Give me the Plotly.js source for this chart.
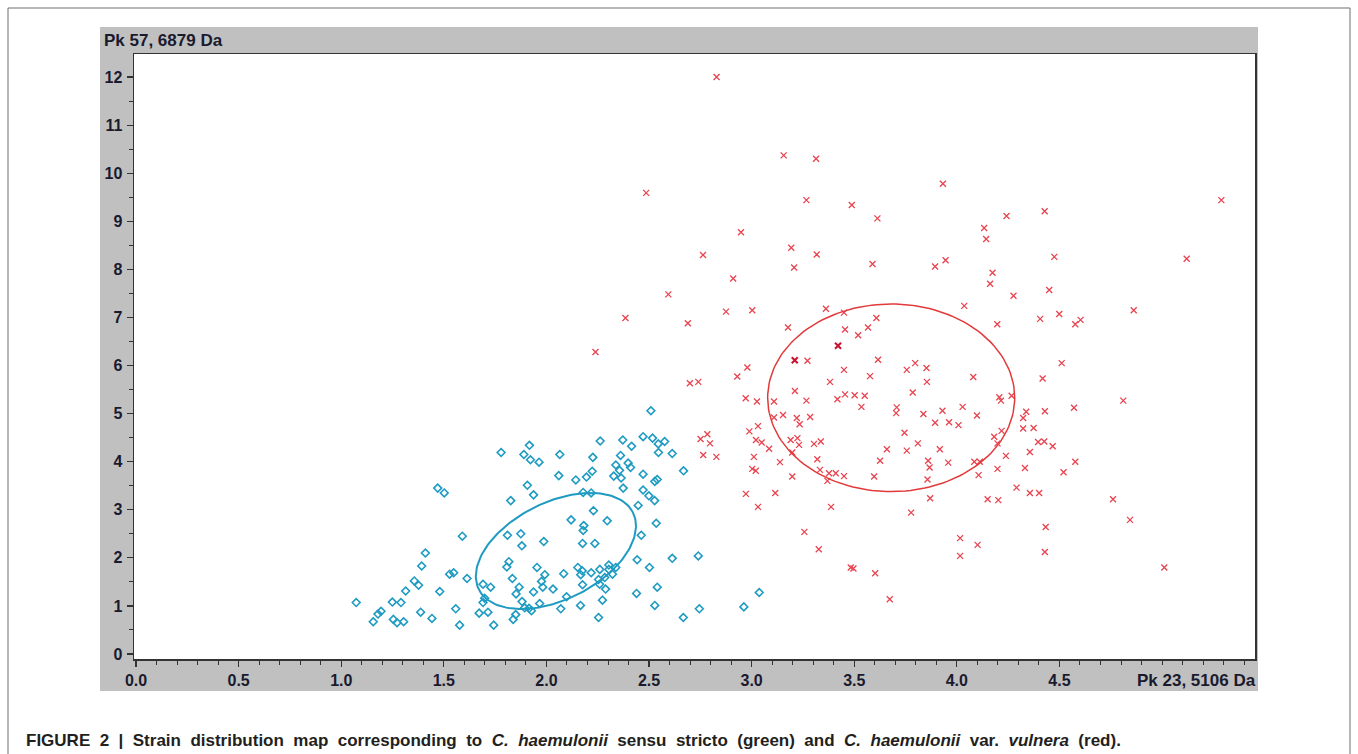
<!DOCTYPE html>
<html>
<head>
<meta charset="utf-8">
<script src="https://cdn.plot.ly/plotly-3.0.1.min.js"></script>
<style>
html,body{margin:0;padding:0;background:#fff;}
#chart{width:1358px;height:754px;}
</style>
</head>
<body>
<div id="chart"></div>
<script>
// ---- data ----
const greenX = [1.073,1.156,1.179,1.194,1.249,1.254,1.272,1.304,1.291,1.314,1.356,1.377,1.392,1.41,1.387,1.442,1.47,1.502,1.48,1.528,1.548,1.558,1.577,1.59,1.613,1.672,1.715,1.691,1.728,1.691,1.699,1.743,1.779,1.89,1.917,1.922,1.907,1.826,1.81,1.875,1.88,1.817,1.807,1.834,1.867,1.852,1.881,1.894,1.915,1.85,1.838,2.509,1.964,2.065,2.262,2.372,2.415,2.471,2.517,2.545,2.576,2.546,2.613,2.226,2.361,2.338,2.356,2.398,2.41,2.223,2.195,2.143,2.06,2.328,2.364,2.471,2.668,2.528,2.54,1.937,2.179,2.218,2.374,2.471,2.499,2.527,2.447,2.229,2.12,2.182,2.179,2.296,2.535,1.987,2.176,2.236,2.462,2.442,2.613,2.502,1.954,1.992,1.976,1.982,2.084,2.153,2.174,2.167,2.218,2.26,2.304,2.304,2.338,2.322,2.284,2.254,2.259,2.288,2.032,1.937,2.176,1.927,1.967,2.098,2.07,2.166,2.273,2.254,2.439,2.54,2.528,2.667,2.74,2.745,2.962,3.037];
const greenY = [1.07,0.67,0.83,0.89,1.08,0.72,0.65,0.67,1.07,1.31,1.52,1.43,1.83,2.10,0.87,0.74,3.45,3.35,1.30,1.66,1.69,0.94,0.60,2.45,1.57,0.85,0.87,1.45,1.39,1.07,1.16,0.60,4.19,4.15,4.34,4.04,3.51,3.19,2.47,2.50,2.25,1.92,1.81,1.57,1.39,1.25,1.09,0.96,0.95,0.82,0.72,5.06,3.99,4.15,4.43,4.45,4.32,4.52,4.49,4.37,4.42,4.19,4.17,4.09,4.13,3.93,3.82,3.97,3.88,3.80,3.68,3.62,3.71,3.70,3.66,3.74,3.81,3.59,3.63,3.31,3.36,3.35,3.45,3.41,3.29,3.19,3.09,2.98,2.79,2.67,2.57,2.77,2.72,2.34,2.30,2.30,2.47,1.96,1.99,1.80,1.80,1.65,1.51,1.39,1.67,1.80,1.73,1.65,1.69,1.76,1.85,1.76,1.80,1.66,1.59,1.55,1.45,1.35,1.35,1.29,1.44,0.90,1.05,1.19,0.94,1.01,1.12,0.76,1.26,1.39,1.01,0.76,2.04,0.94,0.98,1.28];

const redX = [2.829,3.156,3.314,2.486,3.267,2.948,3.193,3.317,2.763,3.207,2.91,2.594,2.875,3.003,3.362,2.689,3.177,3.272,2.979,2.93,2.239,2.385,3.932,3.488,3.613,4.242,4.428,4.133,4.143,3.589,3.894,3.945,4.174,4.162,4.45,4.276,4.036,4.406,4.197,3.45,3.455,3.519,3.567,3.608,3.616,3.45,3.577,3.756,3.797,3.852,4.08,4.418,5.289,4.475,5.12,4.499,4.577,4.603,4.862,4.511,2.699,2.74,2.971,3.026,3.109,3.211,3.267,3.382,3.418,3.455,3.109,3.153,3.22,3.285,3.234,3.031,2.989,2.784,2.751,2.797,3.021,3.049,3.085,3.19,3.223,3.231,3.198,3.304,3.337,2.764,2.828,3.011,3.138,3.32,3.003,3.02,3.333,3.377,3.41,3.45,3.369,3.198,2.972,3.115,3.031,3.387,3.257,3.327,3.483,3.854,3.785,3.502,3.551,3.535,3.707,3.704,3.837,3.93,4.028,4.098,3.894,3.962,4.008,4.207,4.215,4.267,3.745,3.81,3.756,3.659,3.917,3.626,3.86,3.867,3.958,3.597,3.857,4.085,4.112,4.106,4.182,4.218,4.198,4.239,4.198,4.291,4.15,4.202,3.87,3.777,4.016,4.101,4.016,3.496,3.602,3.673,4.811,4.338,4.429,4.571,4.323,4.323,4.374,4.396,4.426,4.467,4.356,4.577,4.332,4.52,4.356,4.401,4.761,4.844,4.433,4.429,5.011];
const redY = [12.0,10.37,10.30,9.59,9.44,8.77,8.45,8.31,8.30,8.04,7.81,7.48,7.12,7.15,7.18,6.88,6.79,6.10,5.96,5.77,6.28,6.99,9.78,9.34,9.06,9.11,9.21,8.86,8.63,8.11,8.06,8.19,7.93,7.70,7.57,7.45,7.24,6.97,6.86,7.10,6.75,6.63,6.79,6.99,6.12,5.91,5.78,5.91,6.05,5.95,5.76,5.73,9.44,8.26,8.22,7.07,6.86,6.95,7.15,6.05,5.63,5.66,5.32,5.25,5.25,5.47,5.27,5.66,5.30,5.40,4.92,4.97,4.91,4.93,4.78,4.74,4.63,4.57,4.47,4.38,4.45,4.40,4.27,4.45,4.49,4.35,4.19,4.37,4.42,4.14,4.10,4.10,3.99,4.05,3.85,3.81,3.83,3.76,3.76,3.70,3.60,3.69,3.33,3.35,3.06,3.06,2.54,2.18,1.80,5.66,5.44,5.38,5.37,5.14,5.13,5.01,4.99,5.06,5.14,4.96,4.81,4.82,4.76,5.34,5.27,5.37,4.60,4.38,4.23,4.26,4.26,4.02,4.02,3.88,3.98,3.69,3.63,4.00,4.00,3.72,4.52,4.64,4.38,4.12,3.85,3.46,3.22,3.20,3.24,2.94,2.41,2.27,2.04,1.78,1.68,1.14,5.27,5.04,5.05,5.12,4.91,4.69,4.70,4.41,4.42,4.32,4.20,4.00,3.87,3.78,3.35,3.35,3.22,2.79,2.64,2.12,1.80];
const redMarkedX = [3.421, 3.21];
const redMarkedY = [6.41, 6.11];

// ellipse parameters: [centre x, centre y, var x, var y, cov xy]
const greenEllipse = [2.046, 2.142, 0.1523, 1.455, 0.2044];
const redEllipse   = [3.680, 5.329, 0.3624, 3.806, 0.0];

const xTickVals = [0, 0.5, 1.0, 1.5, 2.0, 2.5, 3.0, 3.5, 4.0, 4.5, 5.0];
const xTickText = ['0.0','0.5','1.0','1.5','2.0','2.5','3.0','3.5','4.0','4.5',''];
const yTickVals = [0,1,2,3,4,5,6,7,8,9,10,11,12];
const yTickText = ['0','1','2','3','4','5','6','7','8','9','10','11','12'];

const yAxisLabel = 'Pk 57, 6879 Da';
const xAxisLabel = 'Pk 23, 5106 Da';
const captionWords = ['FIGURE', '2', '|', 'Strain', 'distribution', 'map', 'corresponding', 'to',
  '<i>C.</i>', '<i>haemulonii</i>', 'sensu', 'stricto', '(green)', 'and',
  '<i>C.</i>', '<i>haemulonii</i>', 'var.', '<i>vulnera</i>', '(red).'];

// ---- helpers ----
function ellipsePts(p) {
  const [cx, cy, sxx, syy, sxy] = p;
  const l11 = Math.sqrt(sxx), l21 = sxy / l11, l22 = Math.sqrt(syy - l21 * l21);
  const xs = [], ys = [];
  for (let i = 0; i <= 160; i++) {
    const t = 2 * Math.PI * i / 160;
    xs.push(cx + l11 * Math.cos(t));
    ys.push(cy + l21 * Math.cos(t) + l22 * Math.sin(t));
  }
  return {xs, ys};
}
const minorX = []; for (let i = 0; i <= 54; i++) minorX.push(+(i * 0.1).toFixed(1));
const minorY = []; for (let i = 0; i <= 24; i++) minorY.push(i * 0.5);

const cyan = '#1f9bc2';
const red = '#e8434f';
const ge = ellipsePts(greenEllipse), re = ellipsePts(redEllipse);

const traces = [
  {x: greenX, y: greenY, type: 'scatter', mode: 'markers',
   marker: {symbol: 'diamond-open', size: 6, color: cyan, line: {width: 1.6, color: cyan}}, hoverinfo: 'x+y'},
  {x: redX, y: redY, type: 'scatter', mode: 'markers',
   marker: {symbol: 'x-thin-open', size: 6, color: red, line: {width: 1.3, color: red}}, hoverinfo: 'x+y'},
  {x: redMarkedX, y: redMarkedY, type: 'scatter', mode: 'markers',
   marker: {symbol: 'x-thin-open', size: 6, color: '#c8102e', line: {width: 2, color: '#c8102e'}}, hoverinfo: 'x+y'},
  {x: ge.xs, y: ge.ys, type: 'scatter', mode: 'lines', line: {color: cyan, width: 2}, hoverinfo: 'skip'},
  {x: re.xs, y: re.ys, type: 'scatter', mode: 'lines', line: {color: '#e23a3a', width: 1.5}, hoverinfo: 'skip'}
];

const tickFont = {family: 'Liberation Sans, Arial, sans-serif', size: 16, color: '#1a1a2e', weight: 'bold'};
const L = 134, R = 1255, T = 54, B = 659;
const W = R - L, H = B - T;
const px = v => (v - L) / W;
const py = v => (B - v) / H;

const gap = ' \u00A0';
const caption = '<b>' + captionWords.join(gap) + '</b>';

const layout = {
  width: 1358, height: 754,
  margin: {l: L, r: 1358 - R, t: T, b: 754 - B, pad: 0},
  paper_bgcolor: '#ffffff', plot_bgcolor: '#ffffff',
  showlegend: false,
  xaxis: {
    range: [-0.01, 5.453], showgrid: false, zeroline: false,
    showline: true, linecolor: '#333333', linewidth: 1.5, mirror: true,
    tickmode: 'array', tickvals: xTickVals, ticktext: xTickText,
    ticks: 'outside', ticklen: 6, tickwidth: 1.2, tickcolor: '#333333',
    ticklabelstandoff: 0,
    minor: {tickmode: 'array', tickvals: minorX, ticks: 'outside', ticklen: 4, tickwidth: 1, tickcolor: '#333333'},
    tickfont: tickFont
  },
  yaxis: {
    range: [-0.104, 12.479], showgrid: false, zeroline: false,
    showline: true, linecolor: '#333333', linewidth: 1.5, mirror: true,
    tickmode: 'array', tickvals: yTickVals, ticktext: yTickText,
    ticks: 'outside', ticklen: 6, tickwidth: 1.2, tickcolor: '#333333',
    ticklabelstandoff: 1,
    minor: {tickmode: 'array', tickvals: minorY, ticks: 'outside', ticklen: 4, tickwidth: 1, tickcolor: '#333333'},
    tickfont: tickFont
  },
  shapes: [
    {type: 'rect', xref: 'paper', yref: 'paper', layer: 'below',
     x0: px(100), x1: px(1258), y0: py(691), y1: py(27),
     fillcolor: '#c0c0c0', line: {width: 0}},
    {type: 'rect', xref: 'paper', yref: 'paper', layer: 'below',
     x0: 0, x1: 1, y0: 0, y1: 1, fillcolor: '#ffffff', line: {width: 0}},
    {type: 'path', xref: 'paper', yref: 'paper', layer: 'below',
     path: 'M ' + px(8) + ' ' + py(770) + ' L ' + px(8) + ' ' + py(8) + ' L ' + px(1350) + ' ' + py(8) + ' L ' + px(1350) + ' ' + py(770),
     line: {color: '#6e6e6e', width: 1}}
  ],
  annotations: [
    {text: '<b>' + yAxisLabel + '</b>', xref: 'paper', yref: 'paper', x: px(102), y: py(40),
     xanchor: 'left', yanchor: 'middle', showarrow: false,
     font: {family: 'Liberation Sans, Arial, sans-serif', size: 17, color: '#1a1a2e'}},
    {text: '<b>' + xAxisLabel + '</b>', xref: 'paper', yref: 'paper', x: px(1258), y: py(680),
     xanchor: 'right', yanchor: 'middle', showarrow: false,
     font: {family: 'Liberation Sans, Arial, sans-serif', size: 17, color: '#1a1a2e'}},
    {text: caption, xref: 'paper', yref: 'paper', x: px(24), y: py(741),
     xanchor: 'left', yanchor: 'middle', showarrow: false,
     font: {family: 'Liberation Sans, Arial, sans-serif', size: 17, color: '#231f20'}}
  ]
};

Plotly.newPlot('chart', traces, layout, {displayModeBar: false, staticPlot: true});
</script>
</body>
</html>
